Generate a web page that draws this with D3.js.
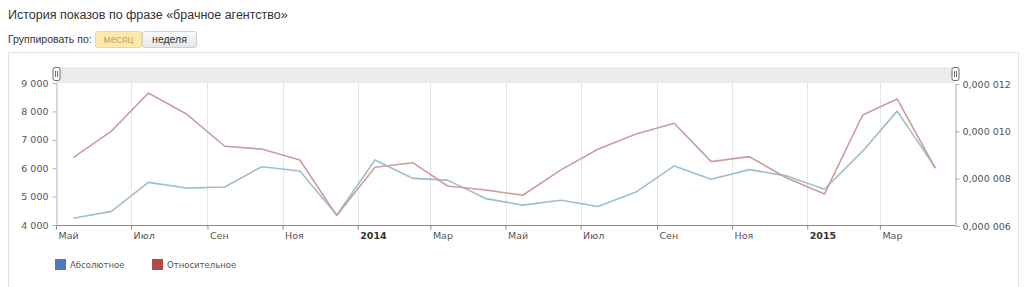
<!DOCTYPE html>
<html>
<head>
<meta charset="utf-8">
<script src="https://cdn.jsdelivr.net/npm/d3@7"></script>
<style>
  html, body { margin: 0; padding: 0; background: #fff; }
  svg { display: block; }
</style>
</head>
<body>
<div id="chart"></div>
<script>
// ── Data ───────────────────────────────────────────────────────────────────
// One point per month, May 2013 … Apr 2015 (plotted mid-month).
const months = [
  '2013-05', '2013-06', '2013-07', '2013-08', '2013-09', '2013-10',
  '2013-11', '2013-12', '2014-01', '2014-02', '2014-03', '2014-04',
  '2014-05', '2014-06', '2014-07', '2014-08', '2014-09', '2014-10',
  '2014-11', '2014-12', '2015-01', '2015-02', '2015-03', '2015-04'
];
const absolute = [
  4240, 4480, 5500, 5300, 5340, 6050,
  5900, 4350, 6290, 5640, 5580, 4930,
  4700, 4870, 4650, 5160, 6080, 5610,
  5950, 5730, 5260, 6600, 8010, 6020
];
const relative = [
  8.89e-6, 10.01e-6, 11.62e-6, 10.73e-6, 9.37e-6, 9.25e-6,
  8.79e-6, 6.44e-6, 8.48e-6, 8.67e-6, 7.69e-6, 7.52e-6,
  7.30e-6, 8.37e-6, 9.24e-6, 9.89e-6, 10.34e-6, 8.72e-6,
  8.93e-6, 8.04e-6, 7.35e-6, 10.69e-6, 11.37e-6, 8.44e-6
];
const monthNames = ['Янв', 'Фев', 'Мар', 'Апр', 'Май', 'Июн', 'Июл', 'Авг', 'Сен', 'Окт', 'Ноя', 'Дек'];
const leftTicks = [4000, 5000, 6000, 7000, 8000, 9000];
const rightTicks = [6e-6, 8e-6, 10e-6, 12e-6];
const seriesNames = ['Абсолютное', 'Относительное'];

const titleText = 'История показов по фразе «брачное агентство»';
const groupLabel = 'Группировать по:';
const groupButtons = ['месяц', 'неделя'];

// ── Layout ─────────────────────────────────────────────────────────────────
const W = 1024, H = 287;
const plotL = 56, plotR = 955, plotT = 83, plotB = 225;
const FONT = 'DejaVu Sans, Verdana, sans-serif';

const svg = d3.select('#chart').append('svg').attr('width', W).attr('height', H);

// Header
svg.append('text')
  .attr('x', 8).attr('y', 19)
  .attr('font-family', 'Liberation Sans, Arial, sans-serif').attr('font-size', 12.5)
  .attr('fill', '#333').text(titleText);

svg.append('text')
  .attr('x', 8).attr('y', 43)
  .attr('font-family', 'Liberation Sans, Arial, sans-serif').attr('font-size', 10.5)
  .attr('fill', '#333').text(groupLabel);

const defs = svg.append('defs');
const grad = defs.append('linearGradient').attr('id', 'btn-grey').attr('x1', 0).attr('x2', 0).attr('y1', 0).attr('y2', 1);
grad.append('stop').attr('offset', '0%').attr('stop-color', '#fafafa');
grad.append('stop').attr('offset', '100%').attr('stop-color', '#e6e6e6');

const btnX = [95, 142, 197];
groupButtons.forEach((label, i) => {
  const active = i === 0;
  svg.append('rect')
    .attr('x', btnX[i] + 0.5).attr('y', 31.5)
    .attr('width', btnX[i + 1] - btnX[i] - 1).attr('height', 16)
    .attr('rx', 2)
    .attr('fill', active ? '#fbeaa9' : 'url(#btn-grey)')
    .attr('stroke', active ? '#e6d9a6' : '#d0d0d0');
  svg.append('text')
    .attr('x', (btnX[i] + btnX[i + 1]) / 2).attr('y', 43)
    .attr('text-anchor', 'middle')
    .attr('font-family', 'Liberation Sans, Arial, sans-serif').attr('font-size', 10.5)
    .attr('fill', active ? '#c9a46a' : '#333')
    .text(label);
});

// Chart container frame
svg.append('path')
  .attr('d', `M8.5,${H} V52.5 H1018.5 V${H}`)
  .attr('fill', 'none').attr('stroke', '#e2e2e2');

// ── Scales ────────────────────────────────────────────────────────────────
const parse = d3.timeParse('%Y-%m-%d');
const dates = months.map(m => parse(m + '-15'));

const x = d3.scaleTime()
  .domain([parse('2013-05-01'), parse('2015-05-01')])
  .range([plotL, plotR]);
const yL = d3.scaleLinear().domain([4000, 9000]).range([plotB, plotT]);
const yR = d3.scaleLinear().domain([6e-6, 12e-6]).range([plotB + 1, plotT + 1]);

const ru = d3.formatLocale({ decimal: ',', thousands: '\u00a0', grouping: [3], currency: ['', ''] });
const fmtLeft = ru.format(',d');
const fmtRight = v => {
  const s = v.toFixed(6).replace('.', ',');
  return s.slice(0, 5) + ' ' + s.slice(5);
};

// Navigator strip above the plot
svg.append('rect')
  .attr('x', plotL).attr('y', 67)
  .attr('width', plotR - plotL).attr('height', plotT - 67)
  .attr('fill', '#ebebeb');

// Month ticks every two months
const xTicks = d3.timeMonth.every(2).range(parse('2013-05-01'), parse('2015-04-02'));

// Grid
svg.append('g').selectAll('line').data(xTicks.slice(1)).join('line')
  .attr('x1', d => Math.round(x(d)) + 0.5).attr('x2', d => Math.round(x(d)) + 0.5)
  .attr('y1', plotT).attr('y2', plotB)
  .attr('stroke', '#e6e6e6');

// X axis
const xAxisG = svg.append('g').attr('transform', `translate(0,${plotB + 0.5})`)
  .call(d3.axisBottom(x).tickValues(xTicks).tickSize(4).tickSizeOuter(0)
    .tickFormat(d => d.getMonth() === 0 ? String(d.getFullYear()) : monthNames[d.getMonth()]));
xAxisG.select('.domain').attr('stroke', '#8a8a8a').attr('d', `M${plotL},0H${plotR}`);
xAxisG.selectAll('.tick line').attr('stroke', '#8a8a8a');
xAxisG.selectAll('.tick text')
  .attr('text-anchor', 'start').attr('dx', 2).attr('y', 7)
  .attr('font-family', FONT).attr('font-size', 9.5).attr('fill', '#555')
  .attr('font-weight', d => d.getMonth() === 0 ? 'bold' : 'normal')
  .style('fill', d => d.getMonth() === 0 ? '#333' : '#555');

// Left axis
const yLG = svg.append('g').attr('transform', `translate(${plotL + 0.5},0)`)
  .call(d3.axisLeft(yL).tickValues(leftTicks).tickSize(4).tickSizeOuter(0).tickFormat(fmtLeft));
yLG.select('.domain').attr('stroke', '#a7b3bf');
yLG.selectAll('.tick line').attr('stroke', '#a7b3bf');
yLG.selectAll('.tick text')
  .attr('font-family', FONT).attr('font-size', 9.5).attr('fill', '#555').attr('x', -8);

// Right axis
const yRG = svg.append('g').attr('transform', `translate(${plotR + 0.5},0)`)
  .call(d3.axisRight(yR).tickValues(rightTicks).tickSize(4).tickSizeOuter(0).tickFormat(fmtRight));
yRG.select('.domain').attr('stroke', '#b3a7a7');
yRG.selectAll('.tick line').attr('stroke', '#b3a7a7');
yRG.selectAll('.tick text')
  .attr('font-family', FONT).attr('font-size', 9.5).attr('fill', '#555').attr('x', 7);

// ── Lines ─────────────────────────────────────────────────────────────────
const lineAbs = d3.line().x((d, i) => x(dates[i])).y(d => yL(d));
const lineRel = d3.line().x((d, i) => x(dates[i])).y(d => yR(d));

svg.append('path').datum(absolute)
  .attr('d', lineAbs).attr('fill', 'none')
  .attr('stroke', '#9fbdd0').attr('stroke-width', 1.6).attr('stroke-linejoin', 'round');
svg.append('path').datum(relative)
  .attr('d', lineRel).attr('fill', 'none')
  .attr('stroke', '#cc9d9b').attr('stroke-width', 1.6).attr('stroke-linejoin', 'round');

// Navigator handles
[plotL, plotR].forEach(hx => {
  const g = svg.append('g').attr('transform', `translate(${hx + 0.5},74)`);
  g.append('rect').attr('x', -3.5).attr('y', -6.5).attr('width', 7).attr('height', 13).attr('rx', 2)
    .attr('fill', '#fff').attr('stroke', '#6f6f6f');
  g.append('line').attr('x1', -1).attr('x2', -1).attr('y1', -3).attr('y2', 3).attr('stroke', '#6f6f6f');
  g.append('line').attr('x1', 1).attr('x2', 1).attr('y1', -3).attr('y2', 3).attr('stroke', '#6f6f6f');
});

// ── Legend ────────────────────────────────────────────────────────────────
const legendColors = ['#4a7ab8', '#b04a48'];
const legendX = [55, 152];
seriesNames.forEach((name, i) => {
  svg.append('rect')
    .attr('x', legendX[i]).attr('y', 259).attr('width', 11).attr('height', 11)
    .attr('fill', legendColors[i]);
  svg.append('text')
    .attr('x', legendX[i] + 15).attr('y', 268)
    .attr('font-family', FONT).attr('font-size', 8.5).attr('fill', '#555')
    .text(name);
});
</script>
</body>
</html>
